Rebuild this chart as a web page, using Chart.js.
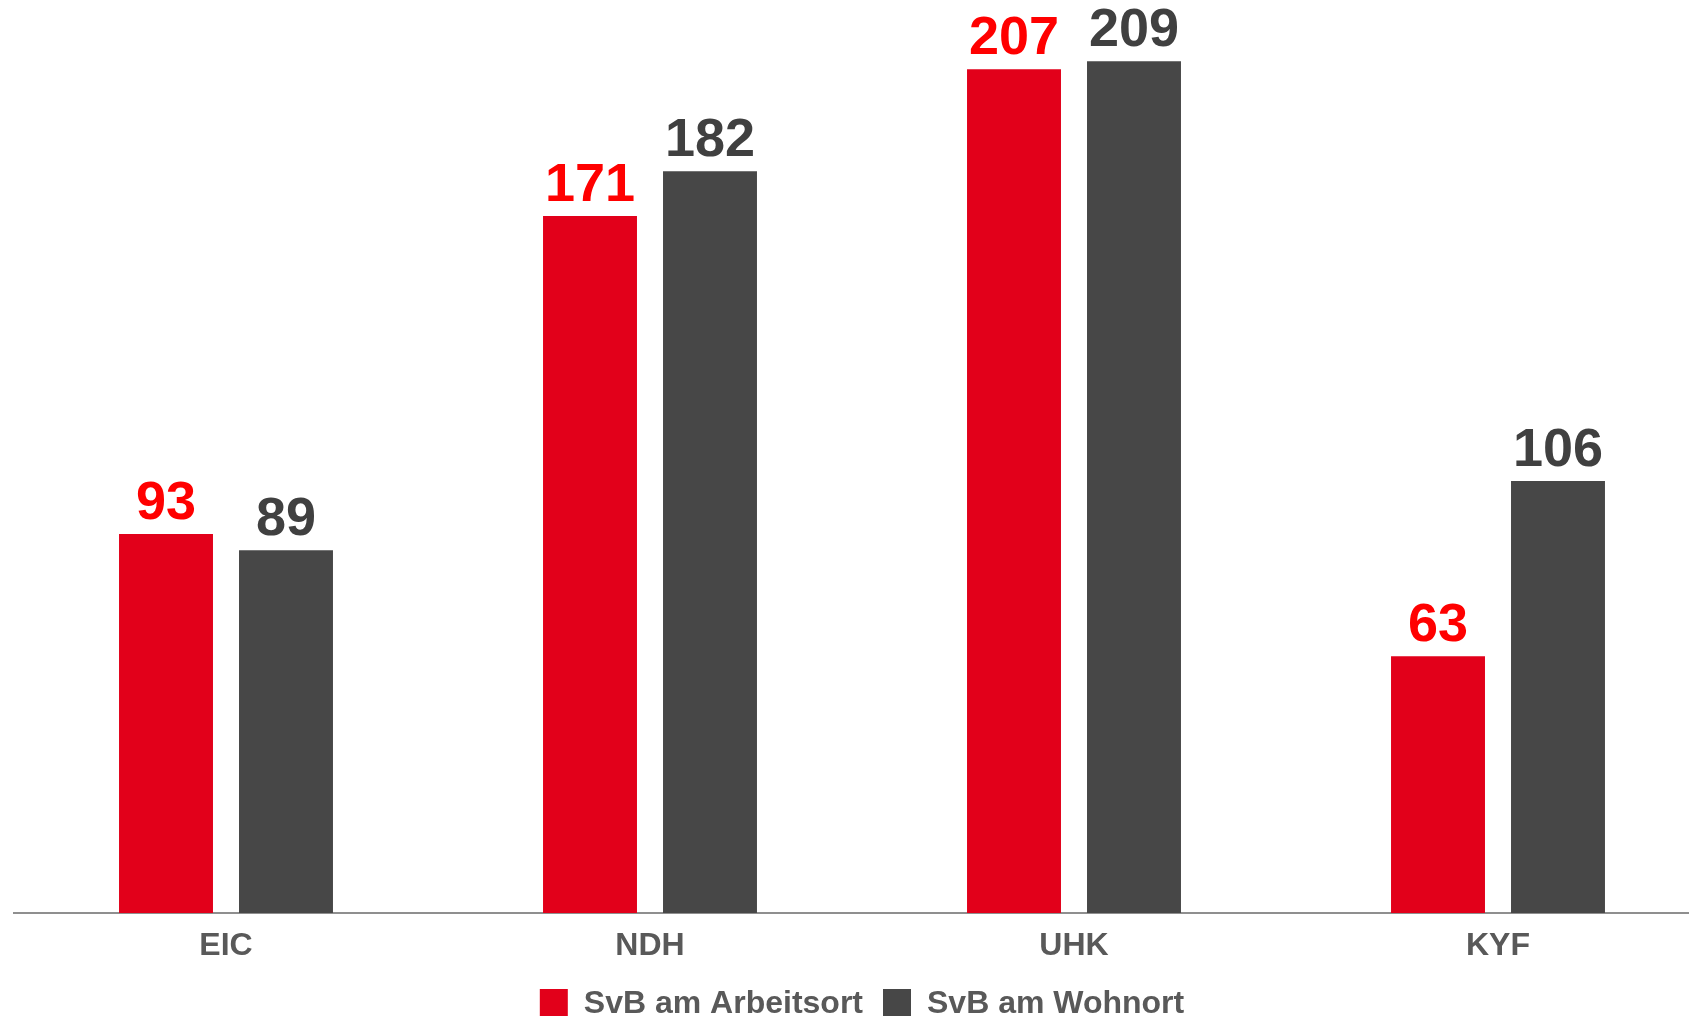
<!DOCTYPE html>
<html>
<head>
<meta charset="utf-8">
<script src="https://cdn.jsdelivr.net/npm/chart.js@4/dist/chart.umd.min.js"></script>
<style>
  html, body { margin: 0; padding: 0; background: #fff; overflow: hidden; }
  #wrap { position: absolute; left: 0; top: 0; width: 1720px; height: 1030px; }
</style>
</head>
<body>
<div id="wrap"><canvas id="chart"></canvas></div>
<script>
// data
const categories = ['EIC', 'NDH', 'UHK', 'KYF'];
const arbeitsort = [93, 171, 207, 63];
const wohnort = [89, 182, 209, 106];
const seriesNames = ['SvB am Arbeitsort', 'SvB am Wohnort'];

const barColors = ['#e2001a', '#474747'];
const labelColors = ['#ff0000', '#404040'];

// draws the value above each bar
const valueLabels = {
  id: 'valueLabels',
  afterDatasetsDraw(chart) {
    const ctx = chart.ctx;
    ctx.save();
    ctx.font = 'bold 54px "Liberation Sans", Arial, sans-serif';
    ctx.textAlign = 'center';
    ctx.textBaseline = 'alphabetic';
    chart.data.datasets.forEach((ds, i) => {
      const meta = chart.getDatasetMeta(i);
      ctx.fillStyle = labelColors[i];
      meta.data.forEach((bar, j) => {
        ctx.fillText(String(ds.data[j]), bar.x, bar.y - 15);
      });
    });
    ctx.restore();
  }
};

new Chart(document.getElementById('chart'), {
  type: 'bar',
  data: {
    labels: categories,
    datasets: [
      { label: seriesNames[0], data: arbeitsort, backgroundColor: barColors[0] },
      { label: seriesNames[1], data: wohnort, backgroundColor: barColors[1] }
    ]
  },
  options: {
    responsive: true,
    maintainAspectRatio: false,
    animation: false,
    datasets: {
      bar: { categoryPercentage: 0.566, barPercentage: 0.783 }
    },
    layout: { padding: { left: 14, right: 10, top: 0, bottom: 0 } },
    scales: {
      x: {
        grid: { display: false, drawTicks: false },
        border: { display: true, color: '#8f8f8f', width: 2 },
        ticks: {
          color: '#595959',
          padding: 14,
          font: { family: '"Liberation Sans", Arial, sans-serif', size: 32, weight: 'bold' }
        },
        afterFit(scale) {
          scale.height = 55;
        }
      },
      y: {
        display: false,
        min: 0,
        max: 224
      }
    },
    plugins: {
      tooltip: { enabled: false },
      legend: {
        position: 'bottom',
        labels: {
          color: '#595959',
          boxWidth: 28,
          boxHeight: 30,
          padding: 20,
          font: { family: '"Liberation Sans", Arial, sans-serif', size: 32, weight: 'bold' }
        }
      }
    }
  },
  plugins: [valueLabels]
});
</script>
</body>
</html>
